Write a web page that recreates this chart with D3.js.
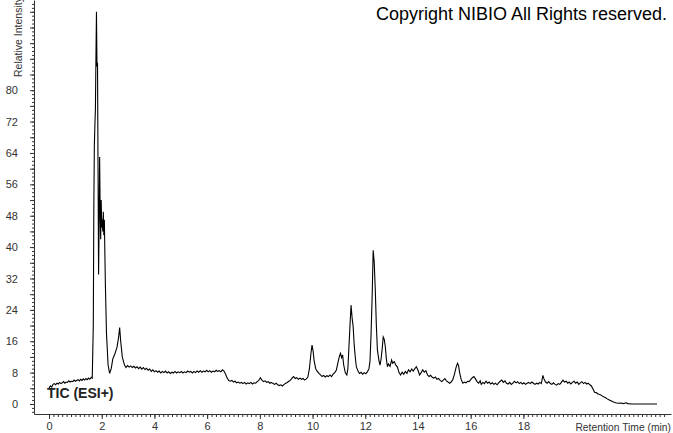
<!DOCTYPE html>
<html>
<head>
<meta charset="utf-8">
<script src="https://cdn.jsdelivr.net/npm/d3@7"></script>
<style>
  body { margin: 0; background: #fff; }
  svg { display: block; }
  .axis text { font-family: "Liberation Sans", Arial, sans-serif; font-size: 11px; fill: #333; }
  .axis path, .axis line { stroke: #333; }
</style>
</head>
<body>
<svg id="chart"></svg>
<script>
// retention time (min) and relative intensity
const trace = [
  [0.00, 4.0], [0.05, 4.6], [0.10, 4.3], [0.15, 5.0], [0.20, 5.2], [0.25, 4.9], [0.30, 5.3],
  [0.35, 5.1], [0.40, 5.5], [0.45, 5.2], [0.50, 5.4], [0.55, 5.7], [0.60, 5.3], [0.65, 5.6],
  [0.70, 5.5], [0.75, 5.9], [0.80, 5.6], [0.85, 5.8], [0.90, 5.7], [0.95, 6.1], [1.00, 5.8],
  [1.05, 6.0], [1.10, 6.2], [1.15, 5.9], [1.20, 6.3], [1.25, 6.0], [1.30, 6.4], [1.35, 6.1],
  [1.40, 6.5], [1.45, 6.2], [1.50, 6.6], [1.55, 6.3], [1.60, 6.8], [1.64, 6.6],
  [1.68, 20], [1.70, 50], [1.72, 66], [1.74, 71], [1.76, 75], [1.78, 88], [1.80, 100],
  [1.82, 86], [1.84, 87], [1.86, 60], [1.88, 33], [1.90, 45], [1.92, 63], [1.94, 50],
  [1.96, 42], [1.98, 52], [2.00, 45], [2.02, 47], [2.04, 44], [2.06, 49], [2.08, 43],
  [2.10, 47], [2.12, 38], [2.14, 30], [2.18, 18], [2.24, 10], [2.30, 7.8], [2.36, 9],
  [2.42, 11.5], [2.50, 12.8], [2.58, 14.5], [2.64, 17], [2.68, 19.5], [2.72, 16],
  [2.78, 12], [2.86, 10], [2.92, 9.3],
  [2.98, 9.8], [3.04, 9.4], [3.10, 9.7], [3.16, 9.3], [3.22, 9.6], [3.28, 9.2], [3.34, 9.5],
  [3.40, 9.0], [3.46, 9.4], [3.52, 8.9], [3.58, 9.3], [3.64, 8.8], [3.70, 9.1], [3.76, 8.6],
  [3.82, 8.9], [3.88, 8.3], [3.94, 8.7], [4.00, 8.2], [4.06, 8.5], [4.12, 8.1], [4.18, 8.4],
  [4.24, 7.9], [4.30, 8.3], [4.36, 8.0], [4.42, 8.4], [4.48, 7.9], [4.54, 8.2], [4.60, 7.8],
  [4.66, 8.1], [4.72, 7.9], [4.78, 8.3], [4.84, 7.9], [4.90, 8.2], [4.96, 8.0], [5.02, 8.3],
  [5.08, 7.9], [5.14, 8.2], [5.20, 8.0], [5.26, 8.4], [5.32, 8.1], [5.38, 8.3], [5.44, 7.9],
  [5.50, 8.3], [5.56, 8.0], [5.62, 8.4], [5.68, 8.1], [5.74, 8.5], [5.80, 8.1], [5.86, 8.4],
  [5.92, 8.2], [5.98, 8.6], [6.04, 8.2], [6.10, 8.5], [6.16, 8.1], [6.22, 8.4], [6.28, 8.2],
  [6.34, 8.6], [6.40, 8.3], [6.46, 8.5], [6.52, 8.2], [6.58, 8.7], [6.64, 8.4],
  [6.70, 7.6], [6.76, 6.6], [6.82, 6.0], [6.88, 5.8], [6.94, 6.0], [7.00, 5.6], [7.06, 5.8],
  [7.12, 5.4], [7.18, 5.6], [7.24, 5.3], [7.30, 5.5], [7.36, 5.2], [7.42, 5.5], [7.48, 5.1],
  [7.54, 5.4], [7.60, 5.2], [7.66, 5.5], [7.72, 5.1], [7.78, 5.4], [7.84, 5.3], [7.90, 5.7],
  [7.96, 6.0], [8.02, 6.7], [8.08, 6.1], [8.14, 5.7], [8.20, 5.9], [8.26, 5.5], [8.32, 5.7],
  [8.38, 5.3], [8.44, 5.5], [8.50, 5.2], [8.56, 5.0], [8.62, 5.3], [8.68, 4.9], [8.74, 4.7],
  [8.80, 4.9], [8.86, 4.6], [8.92, 5.0], [8.98, 5.3], [9.04, 5.5], [9.10, 5.8], [9.16, 6.1],
  [9.22, 6.6], [9.28, 7.0], [9.34, 6.5], [9.40, 6.7], [9.46, 6.3], [9.52, 6.6], [9.58, 6.3],
  [9.64, 6.5], [9.70, 6.1], [9.76, 6.4], [9.82, 6.8], [9.88, 9.0], [9.94, 13.0], [9.98, 15.0],
  [10.02, 13.5], [10.06, 11.0], [10.12, 9.0], [10.18, 8.3], [10.24, 7.8], [10.30, 7.4],
  [10.36, 7.0], [10.42, 7.3], [10.48, 6.9], [10.54, 7.2], [10.60, 7.0], [10.66, 7.4],
  [10.72, 7.0], [10.78, 7.6], [10.84, 8.0], [10.90, 8.6], [10.96, 10.5], [11.02, 12.2],
  [11.06, 12.9], [11.10, 11.8], [11.14, 12.5], [11.18, 10.0], [11.24, 8.0], [11.30, 7.4],
  [11.34, 9.0], [11.38, 14.6], [11.42, 20.0], [11.46, 25.2], [11.50, 22.0], [11.54, 19.7],
  [11.58, 15.0], [11.62, 12.0], [11.66, 9.5], [11.72, 8.5], [11.78, 7.8], [11.84, 8.1],
  [11.90, 7.6], [11.96, 8.0], [12.02, 7.7], [12.08, 8.2], [12.14, 9.0], [12.18, 11.0],
  [12.22, 18.0], [12.26, 27.3], [12.30, 39.2], [12.34, 36.0], [12.38, 29.0], [12.42, 20.0],
  [12.46, 13.8], [12.52, 11.0], [12.56, 9.9], [12.60, 11.5], [12.64, 14.0], [12.68, 17.1],
  [12.72, 16.5], [12.76, 14.6], [12.80, 11.5], [12.84, 9.5], [12.88, 10.2], [12.94, 9.6],
  [13.00, 11.2], [13.04, 10.4], [13.10, 10.8], [13.16, 9.9], [13.22, 9.4], [13.28, 8.0],
  [13.34, 7.4], [13.40, 8.1], [13.46, 7.6], [13.52, 8.3], [13.58, 7.8], [13.64, 8.7],
  [13.70, 8.2], [13.76, 8.9], [13.82, 8.4], [13.88, 9.0], [13.94, 9.5], [14.00, 8.6],
  [14.06, 7.4], [14.12, 8.0], [14.18, 8.7], [14.24, 8.1], [14.30, 8.5], [14.36, 7.4],
  [14.42, 7.0], [14.48, 7.3], [14.54, 6.8], [14.60, 6.6], [14.66, 6.9], [14.72, 6.3],
  [14.78, 6.5], [14.84, 6.0], [14.90, 5.7], [14.96, 6.1], [15.02, 6.5], [15.08, 5.9],
  [15.14, 5.6], [15.20, 5.3], [15.26, 5.6], [15.32, 6.2], [15.38, 7.5], [15.44, 9.2],
  [15.50, 10.4], [15.54, 9.8], [15.58, 8.0], [15.64, 6.2], [15.70, 5.3], [15.76, 5.6],
  [15.82, 5.4], [15.88, 5.8], [15.94, 5.7], [16.00, 6.2], [16.06, 6.7], [16.12, 7.0],
  [16.18, 6.4], [16.24, 5.7], [16.30, 5.3], [16.36, 5.9], [16.40, 5.0], [16.46, 5.5],
  [16.52, 5.2], [16.58, 5.8], [16.64, 5.3], [16.70, 5.6], [16.76, 5.1], [16.82, 5.4],
  [16.88, 5.0], [16.94, 5.3], [17.00, 4.9], [17.06, 5.4], [17.12, 5.8], [17.18, 6.1],
  [17.24, 5.5], [17.30, 5.9], [17.36, 5.3], [17.42, 5.1], [17.48, 5.5], [17.54, 5.0],
  [17.60, 5.3], [17.66, 5.8], [17.72, 5.4], [17.78, 5.7], [17.84, 5.2], [17.90, 5.5],
  [17.96, 5.1], [18.02, 5.4], [18.08, 5.0], [18.14, 5.3], [18.20, 5.5], [18.26, 5.2],
  [18.32, 5.6], [18.38, 5.3], [18.44, 5.0], [18.50, 5.3], [18.56, 5.1], [18.62, 5.5],
  [18.68, 5.2], [18.74, 7.3], [18.78, 6.4], [18.84, 5.6], [18.90, 5.3], [18.96, 5.7],
  [19.02, 5.2], [19.08, 5.0], [19.14, 5.4], [19.20, 5.0], [19.26, 4.8], [19.32, 5.2],
  [19.38, 5.0], [19.44, 5.5], [19.50, 6.1], [19.56, 5.6], [19.62, 5.8], [19.68, 5.3],
  [19.74, 5.6], [19.80, 5.1], [19.86, 5.5], [19.92, 5.8], [19.98, 5.3], [20.04, 5.6],
  [20.10, 5.0], [20.16, 5.4], [20.22, 5.7], [20.28, 5.2], [20.34, 5.5], [20.40, 5.1],
  [20.46, 5.3], [20.52, 4.9], [20.58, 4.6], [20.64, 3.8], [20.70, 3.0], [20.76, 2.9],
  [20.82, 2.6], [20.88, 2.4], [20.94, 2.3], [21.00, 2.0], [21.06, 1.8], [21.12, 1.6],
  [21.18, 1.3], [21.24, 1.1], [21.30, 0.9], [21.36, 0.7], [21.42, 0.5], [21.50, 0.3],
  [21.60, 0.2], [21.70, 0.25], [21.80, 0.1], [21.90, 0.3], [21.96, 0.1], [22.10, 0.0],
  [23.07, 0.0]
];

const xTickLabels = [0, 2, 4, 6, 8, 10, 12, 14, 16, 18];
const yTickLabels = [0, 8, 16, 24, 32, 40, 48, 56, 64, 72, 80];

const width = 673;
const height = 433;

const svg = d3.select('#chart')
  .attr('width', width)
  .attr('height', height);

// plot frame: axes meet at (34, 414)
const xscale = d3.scaleLinear().domain([-0.57, 23.6]).range([34, 671]);
const yscale = d3.scaleLinear().domain([-2.55, 103]).range([414, 0]);

// minor ticks on x (every 1/6 min) and y (every 1 unit)
const xMinor = d3.range(0, 141).map((i) => i / 6);
const yMinor = d3.range(-2, 103);
const yMid = d3.range(0, 101, 4);

svg.append('g')
  .attr('class', 'axis')
  .attr('transform', 'translate(0,414)')
  .call(d3.axisBottom(xscale).tickValues(xMinor).tickSize(3).tickSizeOuter(0).tickFormat(''));

svg.append('g')
  .attr('class', 'axis')
  .attr('transform', 'translate(0,414)')
  .call(d3.axisBottom(xscale).tickValues(xTickLabels).tickSize(5).tickSizeOuter(0).tickPadding(3))
  .call((g) => g.select('.domain').remove());

svg.append('g')
  .attr('class', 'axis')
  .attr('transform', 'translate(34,0)')
  .call(d3.axisLeft(yscale).tickValues(yMinor).tickSize(2).tickSizeOuter(0).tickFormat(''));

svg.append('g')
  .attr('class', 'axis')
  .attr('transform', 'translate(34,0)')
  .call(d3.axisLeft(yscale).tickValues(yMid).tickSize(4).tickSizeOuter(0)
    .tickFormat((d) => yTickLabels.includes(d) ? d : '').tickPadding(12))
  .call((g) => g.select('.domain').remove());

// axis titles
svg.append('text')
  .attr('x', 671)
  .attr('y', 431)
  .attr('text-anchor', 'end')
  .style('font-family', '"Liberation Sans", Arial, sans-serif')
  .style('font-size', '10.3px')
  .style('fill', '#333')
  .text('Retention Time (min)');

svg.append('text')
  .attr('transform', 'translate(22,77) rotate(-90)')
  .style('font-family', '"Liberation Sans", Arial, sans-serif')
  .style('font-size', '10.5px')
  .style('fill', '#333')
  .text('Relative Intensity');

// trace
const line = d3.line()
  .x((d) => xscale(d[0]))
  .y((d) => yscale(d[1]));

svg.append('path')
  .datum(trace)
  .attr('d', line)
  .attr('fill', 'none')
  .attr('stroke', '#000')
  .attr('stroke-width', 1.1);

svg.append('text')
  .attr('x', 47)
  .attr('y', 398)
  .style('font-family', '"Liberation Sans", Arial, sans-serif')
  .style('font-size', '14px')
  .style('font-weight', 'bold')
  .style('fill', '#222')
  .text('TIC (ESI+)');

svg.append('text')
  .attr('x', 376)
  .attr('y', 20)
  .style('font-family', '"Liberation Sans", Arial, sans-serif')
  .style('font-size', '18px')
  .style('fill', '#000')
  .text('Copyright NIBIO All Rights reserved.');
</script>
</body>
</html>
